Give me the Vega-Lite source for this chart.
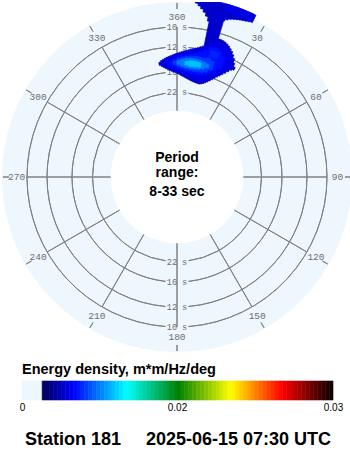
{
  "$schema": "https://vega.github.io/schema/vega-lite/v6.json",
  "padding": 0,
  "background": "white",
  "spacing": 8,
  "config": {"view": {"stroke": null}, "font": "Liberation Sans"},
  "datasets": {
    "disk": [{"a0": 0, "a1": 360, "p0": 8.276, "p1": 33}],
    "rings": [
      {"p": 10, "a0": 4.4, "a1": 175.6}, {"p": 10, "a0": 184.4, "a1": 355.6},
      {"p": 12, "a0": 5.1, "a1": 174.9}, {"p": 12, "a0": 185.1, "a1": 354.9},
      {"p": 16, "a0": 6.3, "a1": 173.7}, {"p": 16, "a0": 186.3, "a1": 353.7},
      {"p": 22, "a0": 7.8, "a1": 172.2}, {"p": 22, "a0": 187.8, "a1": 352.2}
    ],
    "dirs": [
      {"a": 0, "t": "360"}, {"a": 30, "t": "30"}, {"a": 60, "t": "60"}, {"a": 90, "t": "90"},
      {"a": 120, "t": "120"}, {"a": 150, "t": "150"}, {"a": 180, "t": "180"}, {"a": 210, "t": "210"},
      {"a": 240, "t": "240"}, {"a": 270, "t": "270"}, {"a": 300, "t": "300"}, {"a": 330, "t": "330"}
    ],
    "periods": [
      {"a": 0, "p": 10, "t": "10 s"}, {"a": 0, "p": 12, "t": "12 s"}, {"a": 0, "p": 16, "t": "16 s"}, {"a": 0, "p": 22, "t": "22 s"},
      {"a": 180, "p": 10, "t": "10 s"}, {"a": 180, "p": 12, "t": "12 s"}, {"a": 180, "p": 16, "t": "16 s"}, {"a": 180, "p": 22, "t": "22 s"}
    ],
    "blob": [
      {"d0": 351, "d1": 352, "p0": 13.95, "p1": 14.46, "e": 0.0052},
      {"d0": 352, "d1": 353, "p0": 13.71, "p1": 14.72, "e": 0.0052},
      {"d0": 353, "d1": 354, "p0": 13.56, "p1": 15.0, "e": 0.0052},
      {"d0": 354, "d1": 355, "p0": 13.41, "p1": 15.23, "e": 0.0052},
      {"d0": 355, "d1": 356, "p0": 13.3, "p1": 15.42, "e": 0.0052},
      {"d0": 356, "d1": 357, "p0": 13.19, "p1": 15.63, "e": 0.0052},
      {"d0": 357, "d1": 358, "p0": 13.09, "p1": 15.83, "e": 0.0052},
      {"d0": 358, "d1": 359, "p0": 12.97, "p1": 16.0, "e": 0.0052},
      {"d0": 359, "d1": 360, "p0": 12.86, "p1": 16.17, "e": 0.0052},
      {"d0": 0, "d1": 1, "p0": 12.77, "p1": 16.33, "e": 0.0052},
      {"d0": 1, "d1": 2, "p0": 12.66, "p1": 16.53, "e": 0.0052},
      {"d0": 2, "d1": 3, "p0": 12.57, "p1": 16.74, "e": 0.0052},
      {"d0": 3, "d1": 4, "p0": 12.46, "p1": 16.95, "e": 0.0052},
      {"d0": 4, "d1": 5, "p0": 12.37, "p1": 17.14, "e": 0.0052},
      {"d0": 5, "d1": 6, "p0": 12.27, "p1": 17.34, "e": 0.0052},
      {"d0": 6, "d1": 7, "p0": 12.18, "p1": 17.52, "e": 0.0052},
      {"d0": 7, "d1": 8, "p0": 12.08, "p1": 17.7, "e": 0.0052},
      {"d0": 8, "d1": 9, "p0": 11.98, "p1": 17.86, "e": 0.0052},
      {"d0": 9, "d1": 10, "p0": 11.86, "p1": 17.99, "e": 0.0052},
      {"d0": 10, "d1": 11, "p0": 11.73, "p1": 18.1, "e": 0.0052},
      {"d0": 11, "d1": 12, "p0": 11.59, "p1": 18.18, "e": 0.0052},
      {"d0": 12, "d1": 13, "p0": 11.43, "p1": 18.26, "e": 0.0052},
      {"d0": 13, "d1": 14, "p0": 11.21, "p1": 18.26, "e": 0.0052},
      {"d0": 14, "d1": 15, "p0": 10.91, "p1": 18.1, "e": 0.0052},
      {"d0": 15, "d1": 16, "p0": 10.67, "p1": 17.86, "e": 0.0052},
      {"d0": 16, "d1": 17, "p0": 10.53, "p1": 17.54, "e": 0.0052},
      {"d0": 17, "d1": 18, "p0": 10.5, "p1": 17.19, "e": 0.0052},
      {"d0": 18, "d1": 19, "p0": 10.53, "p1": 16.78, "e": 0.0052},
      {"d0": 19, "d1": 20, "p0": 10.6, "p1": 16.35, "e": 0.0052},
      {"d0": 20, "d1": 21, "p0": 10.7, "p1": 15.92, "e": 0.0052},
      {"d0": 21, "d1": 22, "p0": 10.83, "p1": 15.48, "e": 0.0052},
      {"d0": 22, "d1": 23, "p0": 11.01, "p1": 15.08, "e": 0.0052},
      {"d0": 23, "d1": 24, "p0": 11.21, "p1": 14.67, "e": 0.0052},
      {"d0": 24, "d1": 25, "p0": 11.48, "p1": 14.25, "e": 0.0052},
      {"d0": 25, "d1": 26, "p0": 11.82, "p1": 13.82, "e": 0.0052},
      {"d0": 26, "d1": 27, "p0": 12.31, "p1": 13.41, "e": 0.0052},
      {"d0": 27, "d1": 28, "p0": 12.77, "p1": 13.19, "e": 0.0052},
      {"d0": 6, "d1": 7, "p0": 8, "p1": 8.28, "e": 0.0052},
      {"d0": 7, "d1": 8, "p0": 8, "p1": 8.42, "e": 0.0052},
      {"d0": 8, "d1": 9, "p0": 8, "p1": 8.57, "e": 0.0052},
      {"d0": 9, "d1": 10, "p0": 8, "p1": 8.76, "e": 0.0052},
      {"d0": 10, "d1": 11, "p0": 8, "p1": 8.99, "e": 0.0052},
      {"d0": 11, "d1": 11.7, "p0": 8, "p1": 9.3, "e": 0.0052},
      {"d0": 11.7, "d1": 16.6, "p0": 8, "p1": 11.54, "e": 0.0052},
      {"d0": 16.6, "d1": 17, "p0": 8, "p1": 9.02, "e": 0.0052},
      {"d0": 17, "d1": 18, "p0": 8, "p1": 8.89, "e": 0.0052},
      {"d0": 18, "d1": 19, "p0": 8, "p1": 8.79, "e": 0.0052},
      {"d0": 19, "d1": 20, "p0": 8, "p1": 8.73, "e": 0.0052},
      {"d0": 20, "d1": 21, "p0": 8, "p1": 8.68, "e": 0.0052},
      {"d0": 21, "d1": 22, "p0": 8, "p1": 8.63, "e": 0.0052},
      {"d0": 22, "d1": 23, "p0": 8, "p1": 8.59, "e": 0.0052},
      {"d0": 23, "d1": 24, "p0": 8, "p1": 8.55, "e": 0.0052},
      {"d0": 24, "d1": 25, "p0": 8, "p1": 8.51, "e": 0.0052},
      {"d0": 25, "d1": 26, "p0": 8, "p1": 8.46, "e": 0.0052},
      {"d0": 16, "d1": 25, "p0": 8, "p1": 8.4, "e": 0.0058},
      {"d0": 352, "d1": 354, "p0": 13.95, "p1": 14.63, "e": 0.0059},
      {"d0": 354, "d1": 356, "p0": 13.64, "p1": 15.0, "e": 0.0059},
      {"d0": 356, "d1": 358, "p0": 13.33, "p1": 15.38, "e": 0.0059},
      {"d0": 358, "d1": 360, "p0": 13.11, "p1": 15.58, "e": 0.0059},
      {"d0": 0, "d1": 2, "p0": 12.9, "p1": 15.79, "e": 0.0059},
      {"d0": 2, "d1": 4, "p0": 12.7, "p1": 16.11, "e": 0.0059},
      {"d0": 4, "d1": 6, "p0": 12.5, "p1": 16.44, "e": 0.0059},
      {"d0": 6, "d1": 8, "p0": 12.31, "p1": 16.78, "e": 0.0059},
      {"d0": 8, "d1": 10, "p0": 12.12, "p1": 17.02, "e": 0.0059},
      {"d0": 10, "d1": 12, "p0": 11.88, "p1": 17.14, "e": 0.0059},
      {"d0": 12, "d1": 14, "p0": 11.54, "p1": 17.14, "e": 0.0059},
      {"d0": 14, "d1": 16, "p0": 11.01, "p1": 16.9, "e": 0.0059},
      {"d0": 16, "d1": 18, "p0": 10.91, "p1": 16.44, "e": 0.0059},
      {"d0": 18, "d1": 20, "p0": 11.01, "p1": 15.79, "e": 0.0059},
      {"d0": 20, "d1": 22, "p0": 11.21, "p1": 15.0, "e": 0.0059},
      {"d0": 22, "d1": 24, "p0": 11.54, "p1": 14.29, "e": 0.0059},
      {"d0": 24, "d1": 26, "p0": 12.0, "p1": 13.48, "e": 0.0059},
      {"d0": 356, "d1": 358, "p0": 13.95, "p1": 14.63, "e": 0.0068},
      {"d0": 358, "d1": 360, "p0": 13.64, "p1": 15.0, "e": 0.0068},
      {"d0": 0, "d1": 2, "p0": 13.33, "p1": 15.38, "e": 0.0068},
      {"d0": 2, "d1": 4, "p0": 13.11, "p1": 15.69, "e": 0.0068},
      {"d0": 4, "d1": 6, "p0": 12.97, "p1": 15.89, "e": 0.0068},
      {"d0": 6, "d1": 8, "p0": 12.83, "p1": 16.0, "e": 0.0068},
      {"d0": 8, "d1": 10, "p0": 12.63, "p1": 16.11, "e": 0.0068},
      {"d0": 10, "d1": 12, "p0": 12.37, "p1": 16.11, "e": 0.0068},
      {"d0": 12, "d1": 14, "p0": 12.0, "p1": 16.0, "e": 0.0068},
      {"d0": 14, "d1": 16, "p0": 11.54, "p1": 15.79, "e": 0.0068},
      {"d0": 16, "d1": 18, "p0": 11.43, "p1": 15.29, "e": 0.0068},
      {"d0": 18, "d1": 20, "p0": 11.65, "p1": 14.63, "e": 0.0068},
      {"d0": 20, "d1": 22, "p0": 12.12, "p1": 13.95, "e": 0.0068},
      {"d0": 15, "d1": 19, "p0": 11.88, "p1": 12.63, "e": 0.0074},
      {"d0": 358, "d1": 360, "p0": 13.95, "p1": 14.55, "e": 0.008},
      {"d0": 0, "d1": 2, "p0": 13.56, "p1": 14.91, "e": 0.008},
      {"d0": 2, "d1": 4, "p0": 13.33, "p1": 15.19, "e": 0.008},
      {"d0": 4, "d1": 6, "p0": 13.19, "p1": 15.38, "e": 0.008},
      {"d0": 6, "d1": 8, "p0": 13.11, "p1": 15.48, "e": 0.008},
      {"d0": 8, "d1": 10, "p0": 13.04, "p1": 15.58, "e": 0.008},
      {"d0": 10, "d1": 12, "p0": 13.04, "p1": 15.58, "e": 0.008},
      {"d0": 12, "d1": 14, "p0": 13.04, "p1": 15.48, "e": 0.008},
      {"d0": 14, "d1": 16, "p0": 12.9, "p1": 15.19, "e": 0.008},
      {"d0": 16, "d1": 18, "p0": 13.19, "p1": 14.63, "e": 0.008},
      {"d0": 0, "d1": 2, "p0": 13.87, "p1": 14.55, "e": 0.0097},
      {"d0": 2, "d1": 4, "p0": 13.64, "p1": 14.81, "e": 0.0097},
      {"d0": 4, "d1": 6, "p0": 13.48, "p1": 15.0, "e": 0.0097},
      {"d0": 6, "d1": 8, "p0": 13.41, "p1": 15.09, "e": 0.0097},
      {"d0": 8, "d1": 10, "p0": 13.41, "p1": 15.09, "e": 0.0097},
      {"d0": 10, "d1": 12, "p0": 13.48, "p1": 15.0, "e": 0.0097},
      {"d0": 12, "d1": 14, "p0": 13.64, "p1": 14.81, "e": 0.0097},
      {"d0": 14, "d1": 16, "p0": 13.79, "p1": 14.46, "e": 0.0097},
      {"d0": 4, "d1": 6, "p0": 13.95, "p1": 14.55, "e": 0.0116},
      {"d0": 6, "d1": 8, "p0": 13.79, "p1": 14.72, "e": 0.0116},
      {"d0": 8, "d1": 10, "p0": 13.79, "p1": 14.72, "e": 0.0116},
      {"d0": 10, "d1": 12, "p0": 13.87, "p1": 14.63, "e": 0.0116}
    ],
    "colorbar": [
      {"v0": 0, "v1": 0.0026},
      {"v0": 0.0026, "v1": 0.0031}, {"v0": 0.0031, "v1": 0.0036}, {"v0": 0.0036, "v1": 0.0041}, {"v0": 0.0041, "v1": 0.0046},
      {"v0": 0.0046, "v1": 0.0051}, {"v0": 0.0051, "v1": 0.0056}, {"v0": 0.0056, "v1": 0.0061}, {"v0": 0.0061, "v1": 0.0066},
      {"v0": 0.0066, "v1": 0.0071}, {"v0": 0.0071, "v1": 0.0076}, {"v0": 0.0076, "v1": 0.0081}, {"v0": 0.0081, "v1": 0.0086},
      {"v0": 0.0086, "v1": 0.0091}, {"v0": 0.0091, "v1": 0.0096}, {"v0": 0.0096, "v1": 0.0101}, {"v0": 0.0101, "v1": 0.0106},
      {"v0": 0.0106, "v1": 0.0111}, {"v0": 0.0111, "v1": 0.0116}, {"v0": 0.0116, "v1": 0.0121}, {"v0": 0.0121, "v1": 0.0126},
      {"v0": 0.0126, "v1": 0.0131}, {"v0": 0.0131, "v1": 0.0136}, {"v0": 0.0136, "v1": 0.0141}, {"v0": 0.0141, "v1": 0.0146},
      {"v0": 0.0146, "v1": 0.0151}, {"v0": 0.0151, "v1": 0.0156}, {"v0": 0.0156, "v1": 0.0161}, {"v0": 0.0161, "v1": 0.0166},
      {"v0": 0.0166, "v1": 0.0171}, {"v0": 0.0171, "v1": 0.0176}, {"v0": 0.0176, "v1": 0.0181}, {"v0": 0.0181, "v1": 0.0186},
      {"v0": 0.0186, "v1": 0.0191}, {"v0": 0.0191, "v1": 0.0196}, {"v0": 0.0196, "v1": 0.02},
      {"v0": 0.02, "v1": 0.02025}, {"v0": 0.02025, "v1": 0.0205}, {"v0": 0.0205, "v1": 0.02075}, {"v0": 0.02075, "v1": 0.021},
      {"v0": 0.021, "v1": 0.02125}, {"v0": 0.02125, "v1": 0.0215}, {"v0": 0.0215, "v1": 0.02175}, {"v0": 0.02175, "v1": 0.022},
      {"v0": 0.022, "v1": 0.02225}, {"v0": 0.02225, "v1": 0.0225}, {"v0": 0.0225, "v1": 0.02275}, {"v0": 0.02275, "v1": 0.023},
      {"v0": 0.023, "v1": 0.02325}, {"v0": 0.02325, "v1": 0.0235}, {"v0": 0.0235, "v1": 0.02375}, {"v0": 0.02375, "v1": 0.024},
      {"v0": 0.024, "v1": 0.02425}, {"v0": 0.02425, "v1": 0.0245}, {"v0": 0.0245, "v1": 0.02475}, {"v0": 0.02475, "v1": 0.025},
      {"v0": 0.025, "v1": 0.02525}, {"v0": 0.02525, "v1": 0.0255}, {"v0": 0.0255, "v1": 0.02575}, {"v0": 0.02575, "v1": 0.026},
      {"v0": 0.026, "v1": 0.02625}, {"v0": 0.02625, "v1": 0.0265}, {"v0": 0.0265, "v1": 0.02675}, {"v0": 0.02675, "v1": 0.027},
      {"v0": 0.027, "v1": 0.02725}, {"v0": 0.02725, "v1": 0.0275}, {"v0": 0.0275, "v1": 0.02775}, {"v0": 0.02775, "v1": 0.028},
      {"v0": 0.028, "v1": 0.02825}, {"v0": 0.02825, "v1": 0.0285}, {"v0": 0.0285, "v1": 0.02875}, {"v0": 0.02875, "v1": 0.029},
      {"v0": 0.029, "v1": 0.02925}, {"v0": 0.02925, "v1": 0.0295}, {"v0": 0.0295, "v1": 0.02975}, {"v0": 0.02975, "v1": 0.03}
    ]
  },
  "vconcat": [
    {
      "width": 350,
      "height": 350,
      "layer": [
        {
          "data": {"name": "disk"},
          "mark": {"type": "arc", "fill": "#eef6fe"},
          "encoding": {
            "theta": {"field": "a0", "type": "quantitative", "scale": {"type": "linear", "domain": [0, 360], "range": [0, 6.283185307179586], "nice": false, "zero": false}},
            "theta2": {"field": "a1"},
            "radius": {"field": "p0", "type": "quantitative", "scale": {"type": "pow", "exponent": -1, "domain": [8, 33], "range": [180, 66.3636], "nice": false, "zero": false}},
            "radius2": {"field": "p1"}
          }
        },
        {
          "data": {"name": "rings"},
          "mark": {"type": "arc", "filled": false, "stroke": "#808080", "strokeWidth": 1},
          "encoding": {
            "theta": {"field": "a0", "type": "quantitative", "scale": {"type": "linear", "domain": [0, 360], "range": [0, 6.283185307179586], "nice": false, "zero": false}},
            "theta2": {"field": "a1"},
            "radius": {"field": "p", "type": "quantitative", "scale": {"type": "pow", "exponent": -1, "domain": [8, 33], "range": [180, 66.3636], "nice": false, "zero": false}},
            "radius2": {"field": "p"}
          }
        },
        {
          "data": {"name": "dirs"},
          "mark": {"type": "arc", "filled": false, "stroke": "#808080", "strokeWidth": 1},
          "encoding": {
            "theta": {"field": "a", "type": "quantitative", "scale": {"type": "linear", "domain": [0, 360], "range": [0, 6.283185307179586], "nice": false, "zero": false}},
            "theta2": {"field": "a"},
            "radius": {"datum": 10, "type": "quantitative", "scale": {"type": "pow", "exponent": -1, "domain": [8, 33], "range": [180, 66.3636], "nice": false, "zero": false}},
            "radius2": {"datum": 33}
          }
        },
        {
          "data": {"name": "dirs"},
          "mark": {"type": "arc", "filled": false, "stroke": "#808080", "strokeWidth": 1},
          "encoding": {
            "theta": {"field": "a", "type": "quantitative", "scale": {"type": "linear", "domain": [0, 360], "range": [0, 6.283185307179586], "nice": false, "zero": false}},
            "theta2": {"field": "a"},
            "radius": {"datum": 8.33, "type": "quantitative", "scale": {"type": "pow", "exponent": -1, "domain": [8, 33], "range": [180, 66.3636], "nice": false, "zero": false}},
            "radius2": {"datum": 8.7}
          }
        },
        {
          "data": {"name": "dirs"},
          "mark": {"type": "text", "font": "Liberation Mono", "fontSize": 9.5, "color": "#6e6e6e", "align": "center", "baseline": "middle"},
          "encoding": {
            "theta": {"field": "a", "type": "quantitative", "stack": null, "scale": {"type": "linear", "domain": [0, 360], "range": [0, 6.283185307179586], "nice": false, "zero": false}},
            "radius": {"datum": 9.2, "type": "quantitative", "scale": {"type": "pow", "exponent": -1, "domain": [8, 33], "range": [180, 66.3636], "nice": false, "zero": false}},
            "text": {"field": "t"}
          }
        },
        {
          "data": {"name": "periods"},
          "mark": {"type": "text", "font": "Liberation Mono", "fontSize": 8.5, "color": "#6e6e6e", "align": "center", "baseline": "middle"},
          "encoding": {
            "theta": {"field": "a", "type": "quantitative", "stack": null, "scale": {"type": "linear", "domain": [0, 360], "range": [0, 6.283185307179586], "nice": false, "zero": false}},
            "radius": {"field": "p", "type": "quantitative", "scale": {"type": "pow", "exponent": -1, "domain": [8, 33], "range": [180, 66.3636], "nice": false, "zero": false}},
            "text": {"field": "t"}
          }
        },
        {
          "data": {"name": "blob"},
          "mark": {"type": "arc", "clip": true, "strokeWidth": 0.8},
          "encoding": {
            "theta": {"field": "d0", "type": "quantitative", "scale": {"type": "linear", "domain": [0, 360], "range": [0, 6.283185307179586], "nice": false, "zero": false}},
            "theta2": {"field": "d1"},
            "radius": {"field": "p0", "type": "quantitative", "scale": {"type": "pow", "exponent": -1, "domain": [8, 33], "range": [180, 66.3636], "nice": false, "zero": false}},
            "radius2": {"field": "p1"},
            "color": {"field": "e", "type": "quantitative", "legend": null, "scale": {"type": "linear", "domain": [0, 0.00258, 0.00645, 0.01329, 0.02, 0.02333, 0.0266, 0.03], "range": ["#eef6fe", "#000060", "#0000ff", "#00ffff", "#008000", "#ffff00", "#ff0000", "#000000"], "interpolate": "rgb", "nice": false, "zero": false}},
            "stroke": {"field": "e", "type": "quantitative", "legend": null, "scale": {"type": "linear", "domain": [0, 0.00258, 0.00645, 0.01329, 0.02, 0.02333, 0.0266, 0.03], "range": ["#eef6fe", "#000060", "#0000ff", "#00ffff", "#008000", "#ffff00", "#ff0000", "#000000"], "interpolate": "rgb", "nice": false, "zero": false}}
          }
        },
        {
          "data": {"values": [{}]},
          "mark": {"type": "text", "text": ["Period", "range:"], "font": "Liberation Sans", "fontSize": 14, "fontWeight": "bold", "color": "#000000", "align": "center", "baseline": "alphabetic", "lineHeight": 15, "dy": -15},
          "encoding": {}
        },
        {
          "data": {"values": [{}]},
          "mark": {"type": "text", "text": "8-33 sec", "font": "Liberation Sans", "fontSize": 14, "fontWeight": "bold", "color": "#000000", "align": "center", "baseline": "alphabetic", "dy": 19},
          "encoding": {}
        }
      ]
    },
    {
      "width": 350,
      "height": 19,
      "data": {"name": "colorbar"},
      "title": {"text": "Energy density, m*m/Hz/deg", "anchor": "start", "frame": "group", "dx": 20, "font": "Liberation Sans", "fontSize": 14.5, "fontWeight": "bold", "color": "#000000", "baseline": "alphabetic", "offset": -8},
      "mark": {"type": "rect", "strokeWidth": 0.6},
      "encoding": {
        "x": {
          "field": "v0", "type": "quantitative",
          "scale": {"type": "linear", "domain": [0, 0.02, 0.03], "range": [20, 175, 331], "nice": false, "zero": false},
          "axis": {
            "values": [0, 0.02, 0.03], "format": "~g", "domain": false, "ticks": false, "grid": false,
            "labelFont": "Liberation Sans", "labelFontSize": 10, "labelColor": "#000000", "labelPadding": 2, "labelFlush": false, "labelOverlap": false,
            "title": "Station 181\u00a0\u00a0\u00a0\u00a0\u00a02025-06-15 07:30 UTC",
            "titleFont": "Liberation Sans", "titleFontSize": 18, "titleFontWeight": "bold", "titleColor": "#000000", "titlePadding": 18
          }
        },
        "x2": {"field": "v1"},
        "color": {"field": "v0", "type": "quantitative", "legend": null, "scale": {"type": "linear", "domain": [0, 0.00258, 0.00645, 0.01329, 0.02, 0.02333, 0.0266, 0.03], "range": ["#eef6fe", "#000060", "#0000ff", "#00ffff", "#008000", "#ffff00", "#ff0000", "#000000"], "interpolate": "rgb", "nice": false, "zero": false}},
        "stroke": {"field": "v0", "type": "quantitative", "legend": null, "scale": {"type": "linear", "domain": [0, 0.00258, 0.00645, 0.01329, 0.02, 0.02333, 0.0266, 0.03], "range": ["#eef6fe", "#000060", "#0000ff", "#00ffff", "#008000", "#ffff00", "#ff0000", "#000000"], "interpolate": "rgb", "nice": false, "zero": false}}
      }
    }
  ]
}
